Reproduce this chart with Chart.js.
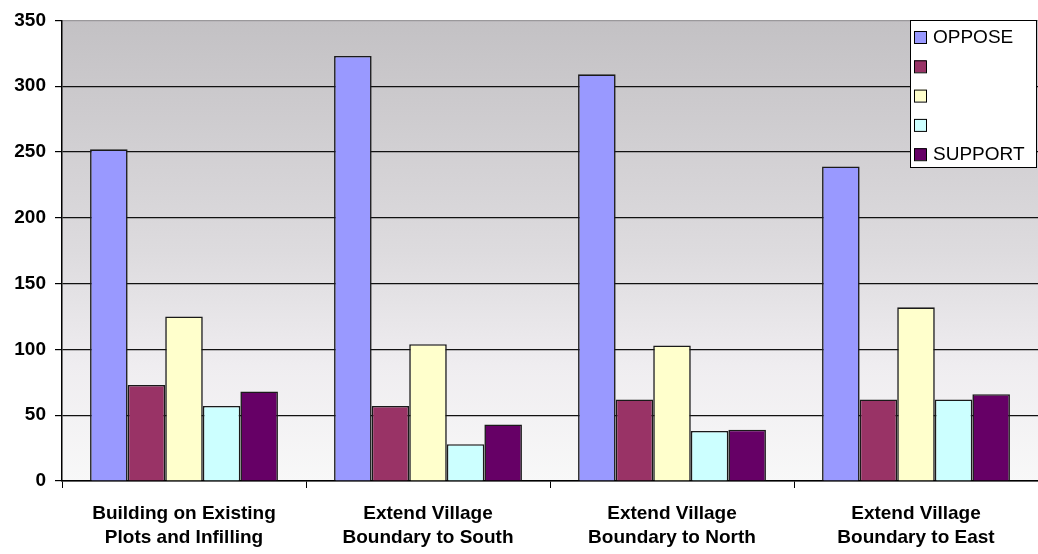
<!DOCTYPE html>
<html>
<head>
<meta charset="utf-8">
<script src="https://cdn.jsdelivr.net/npm/chart.js@4"></script>
<style>
  html, body { margin: 0; padding: 0; background: #fff; overflow: hidden; }
  #wrap { width: 1038px; height: 554px; }
</style>
</head>
<body>
<div id="wrap"><canvas id="chart"></canvas></div>
<script>
// survey answers per proposal
const categories = [
    ['Building on Existing', 'Plots and Infilling'],
    ['Extend Village', 'Boundary to South'],
    ['Extend Village', 'Boundary to North'],
    ['Extend Village', 'Boundary to East']
];
const seriesNames = ['OPPOSE', '', '', '', 'SUPPORT'];
const oppose = [252, 323, 309, 239];
const level2 = [73, 57, 62, 62];
const level3 = [125, 104, 103, 132];
const level4 = [57, 28, 38, 62];
const support = [68, 43, 39, 66];
const yTicks = [0, 50, 100, 150, 200, 250, 300, 350];

const colors = ['#9999ff', '#993366', '#ffffcc', '#ccffff', '#660066'];
const seriesValues = [oppose, level2, level3, level4, support];

const FONT = 'Arial, "Liberation Sans", sans-serif';

// gray-to-white fill behind the bars
const plotBackground = {
    id: 'plotBackground',
    beforeDraw(chart) {
        const { ctx, chartArea: a } = chart;
        const g = ctx.createLinearGradient(0, a.top, 0, a.bottom);
        g.addColorStop(0, '#c3c1c4');
        g.addColorStop(0.5, '#dddbde');
        g.addColorStop(0.75, '#efedf0');
        g.addColorStop(1, '#f8f8f8');
        ctx.save();
        ctx.fillStyle = g;
        ctx.fillRect(a.left, a.top, a.right - a.left, a.bottom - a.top);
        ctx.restore();
    }
};

// boxed legend in the top right corner
const boxLegend = {
    id: 'boxLegend',
    afterDraw(chart) {
        const ctx = chart.ctx;
        const x = 910, y = 20, w = 126, h = 147;
        ctx.save();
        ctx.fillStyle = '#ffffff';
        ctx.fillRect(x, y, w, h);
        ctx.strokeStyle = '#000';
        ctx.lineWidth = 1;
        ctx.strokeRect(x + 0.5, y + 0.5, w, h);
        ctx.font = '19px ' + FONT;
        ctx.textBaseline = 'middle';
        chart.data.datasets.forEach((ds, i) => {
            const cy = y + 17 + i * 29.3;
            ctx.fillStyle = ds.backgroundColor;
            ctx.fillRect(x + 4, cy - 6, 12, 12);
            ctx.strokeStyle = '#000';
            ctx.strokeRect(x + 4.5, cy - 5.5, 12, 12);
            ctx.fillStyle = '#000';
            ctx.fillText(ds.label, x + 23, cy + 1);
        });
        ctx.restore();
    }
};

const datasets = seriesNames.map((name, i) => ({
    label: name,
    data: seriesValues[i],
    backgroundColor: colors[i],
    borderColor: '#1a1a1a',
    borderWidth: 1.6,
    borderSkipped: 'bottom',
    barPercentage: 1,
    categoryPercentage: 0.77
}));

const config = {
    type: 'bar',
    data: { labels: categories, datasets: datasets },
    options: {
        responsive: true,
        maintainAspectRatio: false,
        animation: false,
        layout: { padding: { top: 16, right: 0, left: 0, bottom: 0 } },
        plugins: {
            legend: { display: false },
            tooltip: { enabled: false }
        },
        scales: {
            x: {
                offset: true,
                grid: {
                    offset: true,
                    drawOnChartArea: false,
                    drawTicks: true,
                    tickLength: 7,
                    color: '#000'
                },
                border: { display: true, color: '#000', width: 1.5 },
                ticks: {
                    color: '#000',
                    padding: 14,
                    maxRotation: 0,
                    font: { family: FONT, size: 19, weight: 'bold', lineHeight: 1.25 }
                },
                afterFit(scale) { scale.height = 73; }
            },
            y: {
                min: 0,
                max: 350,
                afterBuildTicks(scale) { scale.ticks = yTicks.map(v => ({ value: v })); },
                grid: {
                    color: (c) => (c.tick && c.tick.value === 350 ? '#9a989b' : '#111'),
                    lineWidth: 1.2,
                    drawTicks: true,
                    tickLength: 7,
                    tickColor: '#000'
                },
                border: { display: true, color: '#000', width: 1.5 },
                ticks: {
                    color: '#000',
                    padding: 9,
                    font: { family: FONT, size: 19, weight: 'bold' }
                },
                afterFit(scale) { scale.width = 62; }
            }
        }
    },
    plugins: [plotBackground, boxLegend]
};

const ctx = document.getElementById('chart').getContext('2d');
const surveyChart = new Chart(ctx, config);
</script>
</body>
</html>
